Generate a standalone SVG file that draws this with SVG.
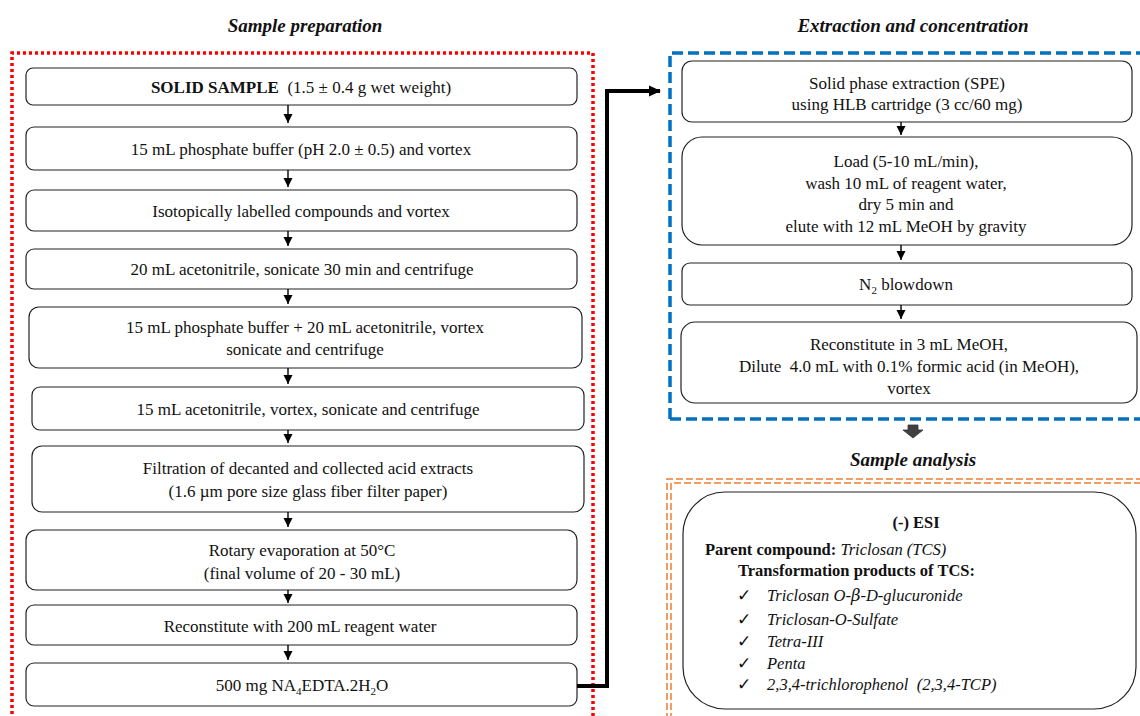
<svg xmlns="http://www.w3.org/2000/svg" width="1140" height="716" viewBox="0 0 1140 716">
<style>
text{font-family:"Liberation Serif","DejaVu Serif",serif;font-size:17px;fill:#111;}
.c{text-anchor:middle;}
.title{font-size:19px;font-weight:bold;font-style:italic;}
.b{font-weight:bold;}
.i{font-style:italic;}
.esi{font-size:16.5px;}
.box{fill:#fff;stroke:#222;stroke-width:1.2;}
.ar{stroke:#000;stroke-width:1.4;fill:none;}
.sub{font-size:11px;}
</style>
<defs>
<marker id="ah" markerWidth="10" markerHeight="10" refX="10" refY="5" orient="auto" markerUnits="userSpaceOnUse" viewBox="0 0 10 10">
<path d="M1,0.5 L10,5 L1,9.5 Z" fill="#000"/>
</marker>
<marker id="ahr" markerWidth="12" markerHeight="12" refX="11" refY="6" orient="auto" markerUnits="userSpaceOnUse" viewBox="0 0 12 12">
<path d="M0,0.5 L12,6 L0,11.5 Z" fill="#000"/>
</marker>
</defs>
<rect width="1140" height="716" fill="#fff"/>

<!-- titles -->
<text class="c title" x="305" y="32">Sample preparation</text>
<text class="c title" x="913" y="32">Extraction and concentration</text>
<text class="c title" x="913" y="466">Sample analysis</text>

<!-- panel borders -->
<path d="M12,720 L12,53 L593,53 L593,720" fill="none" stroke="#ff0000" stroke-width="3.5" stroke-dasharray="3,3"/>
<path d="M670,419 L670,53 L1145,53 M670,419 L1145,419" fill="none" stroke="#0070C0" stroke-width="3.5" stroke-dasharray="11,5"/>
<g fill="none" stroke="#ED7D31" stroke-width="1.5" stroke-dasharray="7,3">
<path d="M667,720 L667,479 L1145,479"/>
<path d="M671,720 L671,483 L1145,483"/>
</g>

<!-- left nodes -->
<g id="n1"><rect class="box" x="26" y="68" width="551" height="37" rx="7"/><text class="c" x="301" y="93" xml:space="preserve"><tspan class="b">SOLID SAMPLE</tspan>  (1.5 ± 0.4 g wet weight)</text></g>
<g id="n2"><rect class="box" x="26" y="127" width="551" height="43" rx="8"/><text class="c" x="301" y="155">15 mL phosphate buffer (pH 2.0 ± 0.5) and vortex</text></g>
<g id="n3"><rect class="box" x="26" y="190" width="551" height="41" rx="8"/><text class="c" x="301" y="217">Isotopically labelled compounds and vortex</text></g>
<g id="n4"><rect class="box" x="26" y="249" width="551" height="40" rx="8"/><text class="c" x="302" y="275">20 mL acetonitrile, sonicate 30 min and centrifuge</text></g>
<g id="n5"><rect class="box" x="29" y="307" width="553" height="61" rx="10"/><text class="c" x="305" y="333">15 mL phosphate buffer + 20 mL acetonitrile, vortex</text><text class="c" x="305" y="355">sonicate and centrifuge</text></g>
<g id="n6"><rect class="box" x="32" y="387" width="552" height="43" rx="8"/><text class="c" x="308" y="415">15 mL acetonitrile, vortex, sonicate and centrifuge</text></g>
<g id="n7"><rect class="box" x="32" y="446" width="552" height="66" rx="10"/><text class="c" x="308" y="474">Filtration of decanted and collected acid extracts</text><text class="c" x="308" y="497">(1.6 µm pore size glass fiber filter paper)</text></g>
<g id="n8"><rect class="box" x="26" y="530" width="551" height="60" rx="10"/><text class="c" x="302" y="556">Rotary evaporation at 50°C</text><text class="c" x="302" y="579">(final volume of 20 - 30 mL)</text></g>
<g id="n9"><rect class="box" x="26" y="605" width="551" height="40" rx="8"/><text class="c" x="300" y="632">Reconstitute with 200 mL reagent water</text></g>
<g id="n10"><rect class="box" x="26" y="663" width="551" height="43" rx="8"/><text class="c" x="302" y="691">500 mg NA<tspan class="sub" dy="4">4</tspan><tspan dy="-4">EDTA.2H</tspan><tspan class="sub" dy="4">2</tspan><tspan dy="-4">O</tspan></text></g>

<!-- right nodes -->
<g id="r1"><rect class="box" x="682" y="61" width="450" height="61" rx="10"/><text class="c" x="907" y="89">Solid phase extraction (SPE)</text><text class="c" x="907" y="110">using HLB cartridge (3 cc/60 mg)</text></g>
<g id="r2"><rect class="box" x="682" y="137" width="450" height="108" rx="20"/><text class="c" x="906" y="167">Load (5-10 mL/min),</text><text class="c" x="906" y="189">wash 10 mL of reagent water,</text><text class="c" x="906" y="210">dry 5 min and</text><text class="c" x="906" y="232">elute with 12 mL MeOH by gravity</text></g>
<g id="r3"><rect class="box" x="682" y="263" width="450" height="42" rx="8"/><text class="c" x="906" y="290">N<tspan class="sub" dy="4">2</tspan><tspan dy="-4"> blowdown</tspan></text></g>
<g id="r4"><rect class="box" x="681" y="322" width="456" height="81" rx="14"/><text class="c" x="909" y="350">Reconstitute in 3 mL MeOH,</text><text class="c" x="909" y="372" xml:space="preserve">Dilute  4.0 mL with 0.1% formic acid (in MeOH),</text><text class="c" x="909" y="394">vortex</text></g>

<g id="esi">
<rect class="box" x="683" y="492" width="453" height="217" rx="42"/>
<text class="c b esi" x="916" y="528">(-) ESI</text>
<text class="esi" x="705" y="555"><tspan class="b">Parent compound: </tspan><tspan class="i">Triclosan (TCS)</tspan></text>
<text class="b esi" x="738" y="576">Transformation products of TCS:</text>
<text class="esi" x="737" y="601">✓</text><text class="i esi" x="767" y="601">Triclosan O-<tspan font-family="'DejaVu Serif',serif">β</tspan>-D-glucuronide</text>
<text class="esi" x="737" y="625">✓</text><text class="i esi" x="767" y="625">Triclosan-O-Sulfate</text>
<text class="esi" x="737" y="647">✓</text><text class="i esi" x="767" y="647">Tetra-III</text>
<text class="esi" x="737" y="669">✓</text><text class="i esi" x="767" y="669">Penta</text>
<text class="esi" x="737" y="690">✓</text><text class="i esi" x="767" y="690" xml:space="preserve">2,3,4-trichlorophenol  (2,3,4-TCP)</text>
</g>

<!-- connectors -->
<g id="connectors">
<line class="ar" x1="288" y1="105" x2="288" y2="123" marker-end="url(#ah)"/>
<line class="ar" x1="288" y1="170" x2="288" y2="187" marker-end="url(#ah)"/>
<line class="ar" x1="288" y1="231" x2="288" y2="246" marker-end="url(#ah)"/>
<line class="ar" x1="288" y1="289" x2="288" y2="304" marker-end="url(#ah)"/>
<line class="ar" x1="288" y1="368" x2="288" y2="384" marker-end="url(#ah)"/>
<line class="ar" x1="288" y1="430" x2="288" y2="443" marker-end="url(#ah)"/>
<line class="ar" x1="288" y1="512" x2="288" y2="527" marker-end="url(#ah)"/>
<line class="ar" x1="288" y1="590" x2="288" y2="603" marker-end="url(#ah)"/>
<line class="ar" x1="288" y1="645" x2="288" y2="660" marker-end="url(#ah)"/>
<line class="ar" x1="901" y1="122" x2="901" y2="135" marker-end="url(#ah)"/>
<line class="ar" x1="901" y1="245" x2="901" y2="260" marker-end="url(#ah)"/>
<line class="ar" x1="901" y1="305" x2="901" y2="319" marker-end="url(#ah)"/>
<path d="M577,686 L607,686 L607,91 L660,91" fill="none" stroke="#000" stroke-width="4" marker-end="url(#ahr)"/>
<path d="M908,425 L918,425 L918,430 L923,430 L913,438 L903,430 L908,430 Z" fill="#404040" stroke="#333" stroke-width="0.8"/>
</g>
</svg>
